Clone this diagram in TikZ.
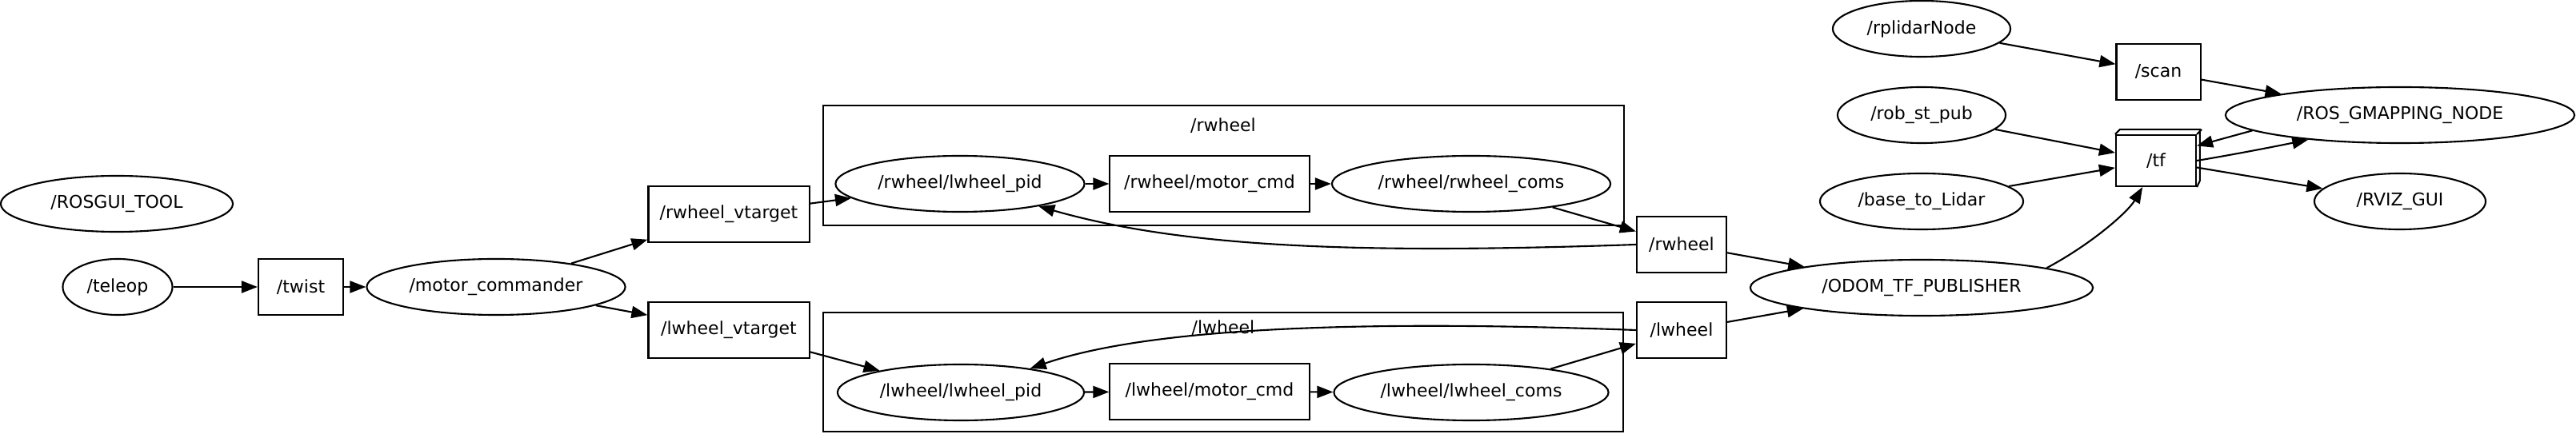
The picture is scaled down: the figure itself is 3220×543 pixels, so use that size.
\documentclass[tikz,border=0pt]{standalone}
\usepackage{fontspec}
\setmainfont{DejaVu Sans}
\usetikzlibrary{arrows.meta,shapes.geometric}

\newcommand{\graphfont}{\fontsize{6.26pt}{7.5pt}\selectfont}

\begin{document}
\begin{tikzpicture}[x=0.01cm, y=-0.01cm,
  ros/.style={draw, ellipse, inner sep=0pt, minimum height=0.7cm,
    line width=0.6pt, font=\graphfont},
  topic/.style={draw, rectangle, inner sep=0pt, minimum height=0.7cm,
    line width=0.6pt, font=\graphfont},
  group/.style={draw, rectangle, inner sep=0pt, line width=0.6pt},
  title/.style={inner sep=0pt, font=\graphfont},
  flow/.style={-{Triangle[length=2mm, width=1.5mm]}, line width=0.6pt}
]
  \useasboundingbox (0,0) rectangle (3220,543);

  % namespaces
  \node[group, minimum width=10.01cm, minimum height=1.5cm] (rgroup)
    at (1529.5,207) {};
  \node[title] (rtitle) at (1529,157) {/rwheel};
  \node[group, minimum width=10.0cm, minimum height=1.49cm] (lgroup)
    at (1529,465.5) {};
  \node[title] (ltitle) at (1529,410) {/lwheel};

  % left part
  \node[ros, minimum width=2.90cm] (rosgui) at (146,255) {/ROSGUI\_TOOL};
  \node[ros, minimum width=1.37cm] (teleop) at (147,359) {/teleop};
  \node[topic, minimum width=1.06cm] (twist) at (376,359) {/twist};
  \node[ros, minimum width=3.23cm] (mc) at (620,359) {/motor\_commander};
  \node[topic, minimum width=2.01cm] (rvt) at (911,268) {/rwheel\_vtarget};
  \node[topic, minimum width=2.01cm] (lvt) at (911,413) {/lwheel\_vtarget};

  \node[ros, minimum width=3.11cm] (rpid) at (1200,230) {/rwheel/lwheel\_pid};
  \node[topic, minimum width=2.49cm] (rmc) at (1512,230) {/rwheel/motor\_cmd};
  \node[ros, minimum width=3.48cm] (rcoms) at (1839,230) {/rwheel/rwheel\_coms};
  \node[ros, minimum width=3.08cm] (lpid) at (1201,491) {/lwheel/lwheel\_pid};
  \node[topic, minimum width=2.49cm] (lmc) at (1512,490) {/lwheel/motor\_cmd};
  \node[ros, minimum width=3.43cm] (lcoms) at (1839,491) {/lwheel/lwheel\_coms};

  \node[topic, minimum width=1.12cm] (rwt) at (2102,306) {/rwheel};
  \node[topic, minimum width=1.12cm] (lwt) at (2102,413) {/lwheel};
  \node[ros, minimum width=4.28cm] (odom) at (2402,360) {/ODOM\_TF\_PUBLISHER};

  % right part
  \node[ros, minimum width=2.22cm] (rplidar) at (2402,36) {/rplidarNode};
  \node[ros, minimum width=2.10cm] (rob) at (2402,144) {/rob\_st\_pub};
  \node[ros, minimum width=2.54cm] (b2l) at (2402,252) {/base\_to\_Lidar};
  \node[topic, minimum width=1.05cm] (scan) at (2698,90) {/scan};
  \node[topic, minimum width=1.0cm, minimum height=0.64cm] (tf)
    at (2695,201) {/tf};
  \draw[line width=0.6pt] (tf.north west) -- ++(6,-6) -- ++(100,0)
    -- ++(0,64) -- (tf.south east) (tf.north east) -- ++(6,-6);
  \node[ros, minimum width=4.36cm] (gm) at (3000,144) {/ROS\_GMAPPING\_NODE};
  \node[ros, minimum width=2.14cm] (rviz) at (3000,252) {/RVIZ\_GUI};

  % topics
  \draw[flow] (teleop) -- (twist);
  \draw[flow] (twist) -- (mc);
  \draw[flow] (mc) -- (rvt);
  \draw[flow] (mc) -- (lvt);
  \draw[flow] (rvt) -- (rpid);
  \draw[flow] (lvt) -- (lpid);
  \draw[flow] (rpid) -- (rmc);
  \draw[flow] (rmc) -- (rcoms);
  \draw[flow] (lpid) -- (lmc);
  \draw[flow] (lmc) -- (lcoms);
  \draw[flow] (rcoms) -- (rwt);
  \draw[flow] (lcoms) -- (lwt);
  \draw[flow] (rwt.west) .. controls (1700,318) and (1480,310) .. (rpid);
  \draw[flow] (lwt.west) .. controls (1750,402) and (1450,405) .. (lpid);
  \draw[flow] (rwt) -- (odom);
  \draw[flow] (lwt) -- (odom);
  \draw[flow] (odom.9) .. controls (2615,305) and (2660,265) .. (tf.-117);
  \draw[flow] (rplidar) -- (scan);
  \draw[flow] (scan) -- (gm);
  \draw[flow] (rob) -- (tf);
  \draw[flow] (b2l) -- (tf);
  \draw[flow] (gm.186) -- (tf.20);
  \draw[flow] (tf.east) .. controls (2800,192) and (2850,182) .. (gm.195);
  \draw[flow] (tf) -- (rviz);
\end{tikzpicture}
\end{document}
